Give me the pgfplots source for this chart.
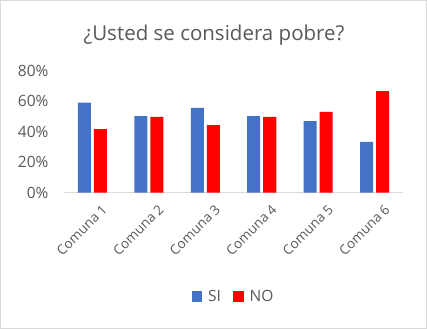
\documentclass[border=0pt]{standalone}
\usepackage{pgfplots}
\pgfplotsset{compat=1.18}
\usepackage{fontspec}
\setmainfont{Open Sans}
\definecolor{sicol}{HTML}{4472C4}
\definecolor{nocol}{HTML}{FF0000}
\definecolor{txt}{HTML}{595959}
\definecolor{brd}{HTML}{D9D9D9}
\begin{document}
\begin{tikzpicture}[x=1bp,y=1bp]
\draw[brd,line width=1.2bp,fill=white] (0.6,0.6) rectangle (426.4,328.4);
\node[txt,font=\fontsize{20.5bp}{24bp}\selectfont] at (214,294) {¿Usted se considera pobre?};
\begin{axis}[
  at={(64bp,136.3bp)}, anchor=south west,
  scale only axis, width=339bp, height=121.9bp,
  xmin=-0.5, xmax=5.5, ymin=0, ymax=80,
  ybar=3bp, bar width=13bp,
  axis line style={draw=none},
  axis x line*=bottom,
  x axis line style={draw=brd,line width=1.2bp},
  axis y line=none,
  hide y axis=false,
  ytick={0,20,40,60,80},
  yticklabel={\pgfmathprintnumber{\tick}\%},
  yticklabel style={txt,font=\fontsize{15.5bp}{18bp}\selectfont,xshift=-12bp},
  /pgf/number format/assume math mode=true,
  xtick={0,1,2,3,4,5},
  xticklabels={Comuna 1,Comuna 2,Comuna 3,Comuna 4,Comuna 5,Comuna 6},
  xticklabel style={txt,font=\fontsize{13.5bp}{16bp}\selectfont,rotate=45,anchor=east,yshift=-19bp,xshift=2bp},
  major tick length=0pt,
  legend style={at={(0.5,-0.85)},anchor=center,draw=none,fill=none,legend columns=2,
    font=\fontsize{15.5bp}{18bp}\selectfont,text=txt,inner sep=0pt,
    /tikz/every odd column/.append style={column sep=4bp},
    /tikz/every even column/.append style={column sep=10bp}},
  legend image code/.code={\fill[#1] (0bp,-5.3bp) rectangle (10.6bp,5.3bp);},
  clip=false,
]
\addplot[fill=sicol,draw=none] coordinates {(0,59.1) (1,50.3) (2,55.6) (3,50.3) (4,47.0) (5,33.3)};
\addplot[fill=nocol,draw=none] coordinates {(0,41.8) (1,49.7) (2,44.4) (3,49.7) (4,53.0) (5,66.7)};
\legend{SI,NO}
\end{axis}
\end{tikzpicture}
\end{document}
